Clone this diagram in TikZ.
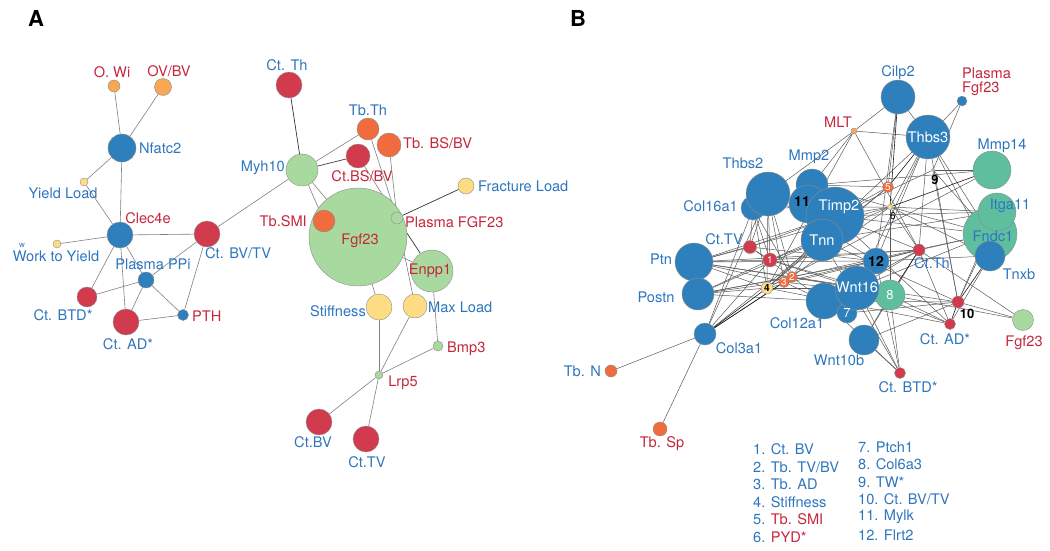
\documentclass[tikz,border=0pt]{standalone}
\usepackage{fontspec}
\setmainfont{TeX Gyre Heros}
\pgfdeclarelayer{bg}
\pgfsetlayers{bg,main}
\definecolor{cblue}{RGB}{46,128,189}
\definecolor{cred}{RGB}{210,58,77}
\definecolor{corange}{RGB}{240,108,62}
\definecolor{clorange}{RGB}{247,168,82}
\definecolor{cyellow}{RGB}{254,220,132}
\definecolor{clgreen}{RGB}{168,218,160}
\definecolor{cteal}{RGB}{94,190,158}
\definecolor{tblue}{RGB}{45,118,190}
\definecolor{tred}{RGB}{198,38,60}
\tikzset{
  nd/.style={circle, draw=black!45, line width=0.4pt, inner sep=0pt},
  nb/.style={nd, fill=cblue},
  nr/.style={nd, fill=cred},
  no/.style={nd, fill=corange},
  nlo/.style={nd, fill=clorange},
  ny/.style={nd, fill=cyellow},
  ng/.style={nd, fill=clgreen},
  nt/.style={nd, fill=cteal},
  lb/.style={font=\fontsize{14.6}{16}\selectfont, inner sep=0pt},
  lbb/.style={lb, text=tblue},
  lbr/.style={lb, text=tred},
  lw/.style={lb, text=white},
  lk/.style={font=\fontsize{13}{15}\selectfont\bfseries, inner sep=0pt, text=black},
  ls/.style={font=\fontsize{10}{12}\selectfont, inner sep=0pt, text=white},
  ed/.style={draw=black!50, line width=0.6pt},
  edk/.style={draw=black!80, line width=0.7pt},
  eb/.style={draw=black!65, line width=0.5pt},
  ebk/.style={draw=black!90, line width=0.6pt},
}
\begin{document}
\begin{tikzpicture}[x=1pt,y=-1pt]
\useasboundingbox (0,0) rectangle (1050,550);
\node[font=\fontsize{22}{24}\selectfont\bfseries, inner sep=0pt] (pA) at (36,18) {A};
\node[font=\fontsize{22}{24}\selectfont\bfseries, inner sep=0pt] (pB) at (578,18) {B};

% ---------------- Panel A nodes ----------------
\node[nlo, minimum size=12pt] (owi) at (114,86) {};
\node[nlo, minimum size=17pt] (ovbv) at (163,87) {};
\node[nb, minimum size=28pt] (nfatc2) at (122,148) {};
\node[ny, minimum size=8pt] (yieldl) at (84,182) {};
\node[nb, minimum size=26pt] (clec) at (120,235) {};
\node[nr, minimum size=26pt] (ctbvtv) at (207,234) {};
\node[ny, minimum size=8pt] (wty) at (57,244) {};
\node[nb, minimum size=16pt] (ppi) at (146,280) {};
\node[nr, minimum size=20pt] (ctbtd) at (87,297) {};
\node[nr, minimum size=26pt] (ctad) at (126,322) {};
\node[nb, minimum size=11pt] (pth) at (183,315) {};
\node[nr, minimum size=26pt] (ctth) at (289,85) {};
\node[ng, minimum size=98pt] (fgf) at (358,237) {};
\node[no, minimum size=22pt] (tbth) at (368,129) {};
\node[no, minimum size=24pt] (tbbsbv) at (389,145) {};
\node[nr, minimum size=24pt] (ctbsbv) at (358,156) {};
\node[ng, minimum size=32pt] (myh10) at (302,170) {};
\node[ny, minimum size=16pt] (fracl) at (466,186) {};
\node[ng, minimum size=12pt] (pfgf) at (397,218) {};
\node[no, minimum size=22pt] (tbsmi) at (324,221) {};
\node[ng, minimum size=42pt] (enpp1) at (432,271) {};
\node[ny, minimum size=26pt] (stiff) at (379,307) {};
\node[ny, minimum size=24pt] (maxl) at (415,306) {};
\node[ng, minimum size=10pt] (bmp3) at (438,346) {};
\node[ng, minimum size=8pt] (lrp5) at (379,375) {};
\node[nr, minimum size=26pt] (ctbv) at (319,422) {};
\node[nr, minimum size=26pt] (cttv) at (366,439) {};

% Panel A labels
\node[lbr] (owi-l) at (112,72) {O. Wi};
\node[lbr] (ovbv-l) at (169,71) {OV/BV};
\node[lbb, anchor=west] (nfatc2-l) at (139,148) {Nfatc2};
\node[lbb] (yieldl-l) at (63,193) {Yield Load};
\node[lbr] (clec-l) at (148,218) {Clec4e};
\node[lbb, anchor=west] (ctbvtv-l) at (205,253) {Ct. BV/TV};
\node[lbb] (wty-l) at (56,256) {Work to Yield};
\node[font=\fontsize{8}{9}\selectfont, inner sep=0pt, text=tblue] (w-l) at (22,245) {w};
\node[lbb] (ppi-l) at (153,264) {Plasma PPi};
\node[lbb] (ctbtd-l) at (63,315) {Ct. BTD*};
\node[lbb] (ctad-l) at (128,344) {Ct. AD*};
\node[lbr, anchor=west] (pth-l) at (192,316) {PTH};
\node[lbb] (ctth-l) at (287,65) {Ct. Th};
\node[lbb] (tbth-l) at (368,110) {Tb.Th};
\node[lbr, anchor=west] (tbbsbv-l) at (403,143) {Tb. BS/BV};
\node[lbr] (ctbsbv-l) at (362,176) {Ct.BS/BV};
\node[lbb, anchor=east] (myh10-l) at (285,168) {Myh10};
\node[lbb, anchor=west] (fracl-l) at (478,186) {Fracture Load};
\node[lbr, anchor=west] (pfgf-l) at (405,222) {Plasma FGF23};
\node[lbr, anchor=east] (tbsmi-l) at (307,221) {Tb.SMI};
\node[lbr] (fgf-l) at (360,241) {Fgf23};
\node[lbr] (enpp1-l) at (430,271) {Enpp1};
\node[lbb, anchor=east] (stiff-l) at (366,311) {Stiffness};
\node[lbb, anchor=west] (maxl-l) at (428,307) {Max Load};
\node[lbr, anchor=west] (bmp3-l) at (447,349) {Bmp3};
\node[lbr] (lrp5-l) at (403,383) {Lrp5};
\node[lbb] (ctbv-l) at (313,442) {Ct.BV};
\node[lbb] (cttv-l) at (367,462) {Ct.TV};

% ---------------- Panel B nodes ----------------
\node[nb, minimum size=34pt] (cilp2) at (898,97) {};
\node[nb, minimum size=10pt] (pfgfb) at (962,101) {};
\node[nlo, minimum size=6pt] (mlt) at (854,131) {};
\node[nb, minimum size=44pt] (thbs3) at (928,137) {};
\node[nt, minimum size=38pt] (mmp14) at (992,170) {};
\node[ny, minimum size=3pt] (n9) at (933,170) {};
\node[no, minimum size=11pt] (n5) at (888,187) {};
\node[ny, minimum size=5pt] (n6) at (890,207) {};
\node[nt, minimum size=54pt] (fndc1) at (990,234) {};
\node[nt, minimum size=38pt] (itga11) at (997,212) {};
\node[nb, minimum size=30pt] (tnxb) at (990,256) {};
\node[nr, minimum size=12pt] (ctthb) at (919,250) {};
\node[nr, minimum size=12pt] (n10) at (958,302) {};
\node[nr, minimum size=11pt] (ctadb) at (950,324) {};
\node[ng, minimum size=21pt] (fgfb) at (1023,320) {};
\node[nr, minimum size=11pt] (ctbtdb) at (900,373) {};
\node[nt, minimum size=30pt] (n8) at (890,295) {};
\node[nb, minimum size=26pt] (n12) at (876,261) {};
\node[nb, minimum size=36pt] (col12) at (824,301) {};
\node[nb, minimum size=20pt] (n7) at (847,313) {};
\node[nb, minimum size=44pt] (wnt16) at (857,288) {};
\node[nb, minimum size=30pt] (wnt10b) at (864,340) {};
\node[nb, minimum size=32pt] (mmp2) at (812,185) {};
\node[nb, minimum size=38pt] (n11) at (808,204) {};
\node[nb, minimum size=58pt] (timp2) at (835,216) {};
\node[nb, minimum size=42pt] (tnn) at (822,240) {};
\node[nb, minimum size=24pt] (col16) at (753,208) {};
\node[nb, minimum size=44pt] (thbs2) at (768,194) {};
\node[nr, minimum size=13pt] (cttvb) at (750,247) {};
\node[nr, minimum size=14pt] (n1) at (770,260) {};
\node[no, minimum size=11pt] (n2) at (792,277) {};
\node[no, minimum size=11pt] (n3) at (784,282) {};
\node[ny, minimum size=12pt] (n4) at (767,288) {};
\node[nb, minimum size=38pt] (ptn) at (694,262) {};
\node[nb, minimum size=32pt] (postn) at (698,294) {};
\node[nb, minimum size=22pt] (col3a1) at (705,334) {};
\node[no, minimum size=12pt] (tbn) at (611,371) {};
\node[no, minimum size=14pt] (tbsp) at (660,429) {};

% Panel B labels
\node[lbb] (cilp2-l) at (898,73) {Cilp2};
\node[lbr, anchor=west] (pfgfb-l1) at (962,73) {Plasma};
\node[lbr, anchor=west] (pfgfb-l2) at (962,89) {Fgf23};
\node[lbr] (mlt-l) at (838,122) {MLT};
\node[lw] (thbs3-l) at (928,137) {Thbs3};
\node[lbb] (mmp14-l) at (1002,146) {Mmp14};
\node[lbb] (itga11-l) at (1010,206) {Itga11};
\node[lbb] (fndc1-l) at (993,236) {Fndc1};
\node[lbb] (tnxb-l) at (1019,274) {Tnxb};
\node[lk] (n9-l) at (935,180) {9};
\node[ls] (n5-l) at (888,187) {5};
\node[font=\fontsize{10}{12}\selectfont, inner sep=0pt] (n6-l) at (893,216) {6};
\node[lbb] (ctthb-l) at (932,263) {Ct.Th};
\node[lk] (n10-l) at (967,314) {10};
\node[lbb] (ctadb-l) at (945,339) {Ct. AD*};
\node[lbr] (fgfb-l) at (1024,343) {Fgf23};
\node[lbb] (ctbtdb-l) at (908,387) {Ct. BTD*};
\node[lw, font=\fontsize{13}{15}\selectfont] (n8-l) at (890,295) {8};
\node[lw] (wnt16-l) at (857,287) {Wnt16};
\node[lk, font=\fontsize{14}{16}\selectfont\bfseries] (n12-l) at (876,261) {12};
\node[lw, font=\fontsize{13}{15}\selectfont] (n7-l) at (847,313) {7};
\node[lbb] (wnt10b-l) at (839,360) {Wnt10b};
\node[lbb] (col12-l) at (797,323) {Col12a1};
\node[lw] (timp2-l) at (839,207) {Timp2};
\node[lw] (tnn-l) at (822,240) {Tnn};
\node[lk, font=\fontsize{14}{16}\selectfont\bfseries] (n11-l) at (802,202) {11};
\node[lbb] (mmp2-l) at (809,157) {Mmp2};
\node[lbb] (thbs2-l) at (743,163) {Thbs2};
\node[lbb, anchor=east] (col16-l) at (738,206) {Col16a1};
\node[lbb] (cttvb-l) at (724,239) {Ct.TV};
\node[ls] (n1-l) at (770,260) {1};
\node[ls] (n2-l) at (792,277) {2};
\node[ls] (n3-l) at (784,282) {3};
\node[ls, text=black, font=\fontsize{10}{12}\selectfont\bfseries] (n4-l) at (767,288) {4};
\node[lbb] (ptn-l) at (661,259) {Ptn};
\node[lbb] (postn-l) at (656,297) {Postn};
\node[lbb] (col3a1-l) at (739,348) {Col3a1};
\node[lbb, anchor=east] (tbn-l) at (601,371) {Tb. N};
\node[lbr] (tbsp-l) at (662,444) {Tb. Sp};

% Legend
\node[lbb, anchor=west] (lg1) at (753,449) {1. Ct. BV};
\node[lbb, anchor=west] (lg2) at (753,467) {2. Tb. TV/BV};
\node[lbb, anchor=west] (lg3) at (753,484) {3. Tb. AD};
\node[lbb, anchor=west] (lg4) at (753,502) {4. Stiffness};
\node[lbb, anchor=west] (lg5) at (753,519) {5. \textcolor{tred}{Tb. SMI}};
\node[lbb, anchor=west] (lg6) at (753,537) {6. \textcolor{tred}{PYD*}};
\node[lbb, anchor=west] (lg7) at (858,447) {7. Ptch1};
\node[lbb, anchor=west] (lg8) at (858,464) {8. Col6a3};
\node[lbb, anchor=west] (lg9) at (858,482) {9. TW*};
\node[lbb, anchor=west] (lg10) at (858,499) {10. Ct. BV/TV};
\node[lbb, anchor=west] (lg11) at (858,517) {11. Mylk};
\node[lbb, anchor=west] (lg12) at (858,535) {12. Flrt2};

% ---------------- Edges ----------------
\begin{pgfonlayer}{bg}
\foreach \a/\b in {owi/nfatc2, ovbv/nfatc2, nfatc2/yieldl, nfatc2/clec, yieldl/clec, clec/wty, clec/ctbvtv, clec/ppi, clec/ctbtd, clec/ctad, ctbvtv/ppi, ctbvtv/pth, ctbvtv/myh10, ppi/ctbtd, ppi/ctad, ppi/pth, ctad/pth, myh10/tbth, myh10/tbsmi, myh10/fgf, tbth/pfgf, tbbsbv/pfgf, ctbsbv/pfgf, fgf/enpp1, fgf/stiff, pfgf/maxl, enpp1/bmp3, stiff/lrp5, maxl/lrp5, bmp3/lrp5, lrp5/ctbv, lrp5/cttv}
  \draw[ed] (\a) -- (\b);
\foreach \a/\b in {ctth/myh10, myh10/ctbsbv, pfgf/fracl, pfgf/enpp1}
  \draw[edk] (\a) -- (\b);
\foreach \a/\b in {tbn/col3a1, tbsp/col3a1, col3a1/n2, col3a1/thbs2, col3a1/col16, col3a1/n1, col3a1/tnn,
  cilp2/mlt, cilp2/thbs3, cilp2/n5, cilp2/n12,
  pfgfb/thbs3, pfgfb/n9,
  mlt/thbs3, mlt/thbs2, mlt/ctthb, mlt/n4, mlt/mmp2,
  thbs3/n6, thbs3/n12, thbs3/fndc1, thbs3/ctthb, thbs3/tnxb, thbs3/n10, thbs3/n4, thbs3/wnt16,
  n9/mmp14, n9/timp2, n9/fndc1, n9/n10,
  n6/timp2, n6/itga11, n6/ctthb, n6/fndc1, n6/n1, n6/col16, n6/tnxb, n6/n8, n6/ptn, n6/n3,
  n5/timp2, n5/n4, n5/tnn, n5/mmp2,
  ctthb/wnt16, ctthb/fgfb, ctthb/n12, ctthb/ctadb, ctthb/timp2, ctthb/fndc1, ctthb/ptn, ctthb/n1, ctthb/n3, ctthb/wnt10b,
  n10/fgfb, n10/wnt10b, n10/n7, n10/fndc1, n10/itga11, n10/col12, n10/n2,
  ctadb/wnt16, ctadb/tnxb, ctadb/n8, ctadb/n4, ctadb/timp2,
  ctbtdb/n8, ctbtdb/wnt10b, ctbtdb/n12, ctbtdb/wnt16, ctbtdb/col12, ctbtdb/tnn,
  wnt10b/n8,
  cttvb/ptn, cttvb/thbs2, cttvb/n1, cttvb/timp2, cttvb/n2, cttvb/col16, cttvb/n12,
  n1/ptn, n1/postn, n1/thbs2, n1/tnn, n1/n8, n1/col16, n1/wnt16,
  n2/ptn, n2/thbs2, n2/timp2, n2/fndc1, n2/wnt16, n2/postn, n2/col12,
  n3/postn, n3/thbs2, n3/col12, n3/ptn, n3/n8,
  n4/postn, n4/ptn, n4/thbs2, n4/col16, n4/tnn, n4/wnt16, n4/n12, n4/mmp14,
  ptn/timp2, ptn/n12, ptn/wnt16, postn/n12, postn/col12, postn/tnn,
  timp2/fndc1, timp2/itga11, mmp2/n6, mmp2/mmp14, tnn/n10, tnn/itga11, n12/tnxb, wnt16/fndc1, n8/fgfb, col12/ctthb, thbs2/n12, col16/n2}
  \draw[eb] (\a) -- (\b);
\foreach \a/\b in {cilp2/n6, thbs3/n5, n6/mmp14, col3a1/n4, col3a1/n3, ctthb/n8, n10/tnxb, ctadb/n10}
  \draw[ebk] (\a) -- (\b);
\end{pgfonlayer}
\end{tikzpicture}
\end{document}
